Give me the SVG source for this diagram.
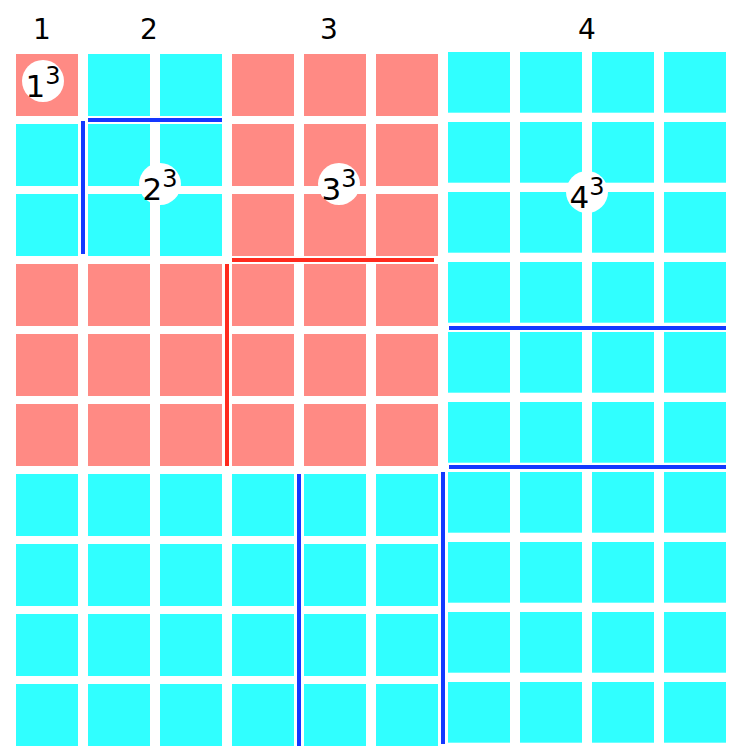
<svg xmlns="http://www.w3.org/2000/svg" width="738" height="753" viewBox="0 0 738 753">
<style>
.s{fill:#FF8A84}
.c{fill:#30FFFF}
.b{fill:#1438FF}
.r{fill:#FF2A1E}
.hd{font-family:"DejaVu Sans",sans-serif;font-size:28px;fill:#000;text-anchor:middle}
.big{font-family:"DejaVu Sans",sans-serif;font-size:31px;fill:#000;text-anchor:middle}
.sup{font-size:24px}
.circ{fill:#fff}
</style>
<defs>
<rect id="sq" width="62" height="62"/>
<rect id="sq4" width="62" height="60.7"/>
</defs>
<rect width="738" height="753" fill="#fff"/>
<g id="block1" class="s">
<use href="#sq" x="16" y="54"/>
</g>
<g id="block2" class="c">
<use href="#sq" x="88" y="54"/><use href="#sq" x="160" y="54"/>
<use href="#sq" x="16" y="124"/><use href="#sq" x="88" y="124"/><use href="#sq" x="160" y="124"/>
<use href="#sq" x="16" y="194"/><use href="#sq" x="88" y="194"/><use href="#sq" x="160" y="194"/>
</g>
<g id="block3" class="s">
<use href="#sq" x="232" y="54"/><use href="#sq" x="304" y="54"/><use href="#sq" x="376" y="54"/>
<use href="#sq" x="232" y="124"/><use href="#sq" x="304" y="124"/><use href="#sq" x="376" y="124"/>
<use href="#sq" x="232" y="194"/><use href="#sq" x="304" y="194"/><use href="#sq" x="376" y="194"/>
<use href="#sq" x="16" y="264"/><use href="#sq" x="88" y="264"/><use href="#sq" x="160" y="264"/><use href="#sq" x="232" y="264"/><use href="#sq" x="304" y="264"/><use href="#sq" x="376" y="264"/>
<use href="#sq" x="16" y="334"/><use href="#sq" x="88" y="334"/><use href="#sq" x="160" y="334"/><use href="#sq" x="232" y="334"/><use href="#sq" x="304" y="334"/><use href="#sq" x="376" y="334"/>
<use href="#sq" x="16" y="404"/><use href="#sq" x="88" y="404"/><use href="#sq" x="160" y="404"/><use href="#sq" x="232" y="404"/><use href="#sq" x="304" y="404"/><use href="#sq" x="376" y="404"/>
</g>
<g id="block4" class="c">
<use href="#sq" x="16" y="474"/><use href="#sq" x="88" y="474"/><use href="#sq" x="160" y="474"/><use href="#sq" x="232" y="474"/><use href="#sq" x="304" y="474"/><use href="#sq" x="376" y="474"/>
<use href="#sq" x="16" y="544"/><use href="#sq" x="88" y="544"/><use href="#sq" x="160" y="544"/><use href="#sq" x="232" y="544"/><use href="#sq" x="304" y="544"/><use href="#sq" x="376" y="544"/>
<use href="#sq" x="16" y="614"/><use href="#sq" x="88" y="614"/><use href="#sq" x="160" y="614"/><use href="#sq" x="232" y="614"/><use href="#sq" x="304" y="614"/><use href="#sq" x="376" y="614"/>
<use href="#sq" x="16" y="684"/><use href="#sq" x="88" y="684"/><use href="#sq" x="160" y="684"/><use href="#sq" x="232" y="684"/><use href="#sq" x="304" y="684"/><use href="#sq" x="376" y="684"/>
<use href="#sq4" x="448" y="52"/><use href="#sq4" x="520" y="52"/><use href="#sq4" x="592" y="52"/><use href="#sq4" x="664" y="52"/>
<use href="#sq4" x="448" y="122"/><use href="#sq4" x="520" y="122"/><use href="#sq4" x="592" y="122"/><use href="#sq4" x="664" y="122"/>
<use href="#sq4" x="448" y="192"/><use href="#sq4" x="520" y="192"/><use href="#sq4" x="592" y="192"/><use href="#sq4" x="664" y="192"/>
<use href="#sq4" x="448" y="262"/><use href="#sq4" x="520" y="262"/><use href="#sq4" x="592" y="262"/><use href="#sq4" x="664" y="262"/>
<use href="#sq4" x="448" y="332"/><use href="#sq4" x="520" y="332"/><use href="#sq4" x="592" y="332"/><use href="#sq4" x="664" y="332"/>
<use href="#sq4" x="448" y="402"/><use href="#sq4" x="520" y="402"/><use href="#sq4" x="592" y="402"/><use href="#sq4" x="664" y="402"/>
<use href="#sq4" x="448" y="472"/><use href="#sq4" x="520" y="472"/><use href="#sq4" x="592" y="472"/><use href="#sq4" x="664" y="472"/>
<use href="#sq4" x="448" y="542"/><use href="#sq4" x="520" y="542"/><use href="#sq4" x="592" y="542"/><use href="#sq4" x="664" y="542"/>
<use href="#sq4" x="448" y="612"/><use href="#sq4" x="520" y="612"/><use href="#sq4" x="592" y="612"/><use href="#sq4" x="664" y="612"/>
<use href="#sq4" x="448" y="682"/><use href="#sq4" x="520" y="682"/><use href="#sq4" x="592" y="682"/><use href="#sq4" x="664" y="682"/>
</g>
<g id="connectors">
<rect class="b" x="81" y="121" width="4" height="133"/>
<rect class="b" x="88" y="118" width="134" height="4"/>
<rect class="r" x="232" y="258" width="202" height="4"/>
<rect class="r" x="225" y="264" width="4" height="202"/>
<rect class="b" x="449" y="326" width="277" height="4"/>
<rect class="b" x="449" y="465" width="277" height="4"/>
<rect class="b" x="297" y="474" width="4" height="272"/>
<rect class="b" x="441" y="472" width="4" height="272"/>
</g>
<g id="headers">
<text class="hd" x="42" y="39">1</text>
<text class="hd" x="149" y="39">2</text>
<text class="hd" x="329" y="39">3</text>
<text class="hd" x="587" y="39">4</text>
</g>
<g id="label1"><circle class="circ" cx="43" cy="81" r="21"/><text class="big" x="43" y="97">1<tspan class="sup" dy="-13">3</tspan></text></g>
<g id="label2"><circle class="circ" cx="160" cy="184" r="21"/><text class="big" x="160" y="200">2<tspan class="sup" dy="-13">3</tspan></text></g>
<g id="label3"><circle class="circ" cx="339" cy="184" r="21"/><text class="big" x="339" y="200">3<tspan class="sup" dy="-13">3</tspan></text></g>
<g id="label4"><circle class="circ" cx="587" cy="192" r="21"/><text class="big" x="587" y="208">4<tspan class="sup" dy="-13">3</tspan></text></g>
</svg>
